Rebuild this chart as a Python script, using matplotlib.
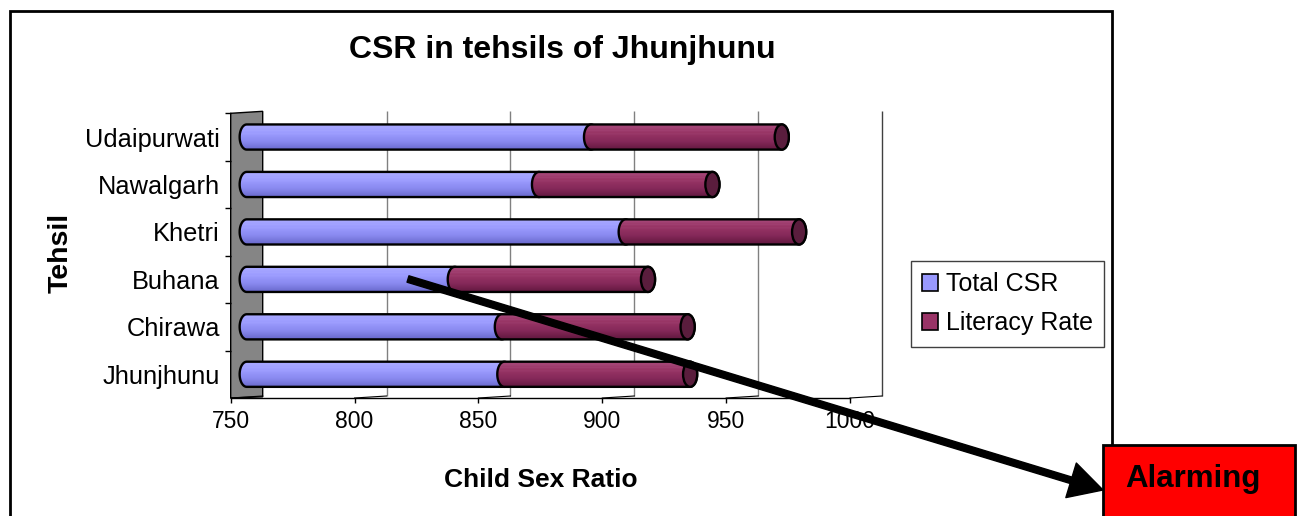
import numpy as np
import matplotlib.pyplot as plt
from matplotlib.patches import Polygon, Ellipse, Rectangle, FancyArrowPatch, ArrowStyle, Patch
from matplotlib.colors import LinearSegmentedColormap
from matplotlib.transforms import ScaledTranslation
from matplotlib.lines import Line2D

# data
tehsils = ['Jhunjhunu', 'Chirawa', 'Buhana', 'Khetri', 'Nawalgarh', 'Udaipurwati']
total_csr = [854, 853, 834, 903, 868, 889]
literacy_rate = [75, 75, 78, 70, 70, 77]
x_ticks = [750, 800, 850, 900, 950, 1000]
series_names = ['Total CSR', 'Literacy Rate']

plt.rcParams['font.family'] = ['Liberation Sans', 'DejaVu Sans']

W, H = 1301, 516
fig = plt.figure(figsize=(W / 100, H / 100), dpi=100)
fig.patch.set_facecolor('white')

def fx(px):
    return px / W

def fy(py):
    return 1 - py / H

ax = fig.add_axes([fx(230.7), fy(398), fx(850) - fx(230.7), fy(113.3) - fy(398)])
ax.set_facecolor('none')

# 3d depth offsets (bars sit mid-depth, gridlines on the back wall)
mid = ax.transData + ScaledTranslation(16 / 100, 0, fig.dpi_scale_trans)
back = ax.transData + ScaledTranslation(32 / 100, 2 / 100, fig.dpi_scale_trans)

blue_cm = LinearSegmentedColormap.from_list('b', ['#6868CC', '#8A8AF0', '#9C9CFF', '#AAAAFF'])
red_cm = LinearSegmentedColormap.from_list('r', ['#62183F', '#86295A', '#983565', '#A84A7C'])
grad = np.linspace(0, 1, 80)
for s in (0.62, 0.74, 0.86):
    grad[int(s * 80)] = 1.0
grad = grad[:, None]

bar_h = 0.53
cap = 2.85  # half width of the end ellipse, in data units


def cylinder(x0, x1, yc):
    t = np.linspace(np.pi / 2, 3 * np.pi / 2, 24)
    left = np.column_stack([x0 + cap * np.cos(t), yc + bar_h / 2 * np.sin(t)])
    t2 = np.linspace(-np.pi / 2, np.pi / 2, 24)
    right = np.column_stack([x1 + cap * np.cos(t2), yc + bar_h / 2 * np.sin(t2)])
    return np.vstack([left, right])


def draw_segment(x0, x1, yc, cm, z):
    poly = Polygon(cylinder(x0, x1, yc), closed=True, facecolor='none',
                   edgecolor='black', lw=1.7, transform=mid, zorder=z + 0.1)
    ax.add_patch(poly)
    im = ax.imshow(grad, extent=(x0 - cap, x1 + cap, yc - bar_h / 2, yc + bar_h / 2),
                   cmap=cm, vmin=0, vmax=1, aspect='auto', origin='lower',
                   interpolation='bilinear', zorder=z)
    im.set_transform(mid)
    im.set_clip_path(poly)


for i, (csr, lit) in enumerate(zip(total_csr, literacy_rate)):
    draw_segment(x_ticks[0], csr, i, blue_cm, 3)
    draw_segment(csr, csr + lit, i, red_cm, 4)
    ax.add_patch(Ellipse((csr + lit, i), 2 * cap, bar_h, facecolor='#5A1D3D',
                         edgecolor='black', lw=1.7, transform=mid, zorder=5))

ax.set_xlim(x_ticks[0], x_ticks[-1])
ax.set_ylim(-0.5, len(tehsils) - 0.5)

# back wall gridlines
ax.vlines(x_ticks[1:-1], -0.5, len(tehsils) - 0.5, colors='#808080', lw=1,
          transform=back, zorder=1, clip_on=False)
ax.vlines(x_ticks[-1:], -0.5, len(tehsils) - 0.5, colors='#404040', lw=1,
          transform=back, zorder=1, clip_on=False)

# grey side wall at the axis minimum
wall = Polygon([(0, 0), (0, 1), (32 / 619.3, 1.007), (32 / 619.3, 0.004)], closed=True,
               facecolor='#858585', edgecolor='black', lw=1, transform=ax.transAxes,
               zorder=1.5, clip_on=False)
ax.add_patch(wall)

# floor edges from the front ticks to the back wall
for v in x_ticks:
    p0 = ax.transData.transform((v, -0.5))
    p1 = back.transform((v, -0.5))
    fig.add_artist(Line2D([p0[0] / W, p1[0] / W], [p0[1] / H, p1[1] / H],
                          transform=fig.transFigure, color='black', lw=0.8))

for side in ('top', 'right', 'left'):
    ax.spines[side].set_visible(False)
ax.spines['bottom'].set_linewidth(1)

ax.set_xticks(x_ticks)
ax.set_xticklabels([str(v) for v in x_ticks])
ax.tick_params(axis='x', direction='out', length=3.6, width=1, pad=5, labelsize=16.5)
ax.set_yticks(range(len(tehsils)))
ax.set_yticklabels(tehsils)
ax.set_yticks(np.arange(0.5, len(tehsils)), minor=True)
ax.tick_params(axis='y', which='major', length=0, pad=7.7, labelsize=18.3)
ax.tick_params(axis='y', which='minor', direction='out', length=4.3, width=1)

fig.text(fx(562), fy(50), 'CSR in tehsils of Jhunjhunu', ha='center', va='center',
         fontsize=23, fontweight='bold')
fig.text(fx(541), fy(480), 'Child Sex Ratio', ha='center', va='center',
         fontsize=19, fontweight='bold')
fig.text(fx(61), fy(253), 'Tehsil', ha='center', va='center', rotation=90,
         fontsize=20.5, fontweight='bold')

handles = [Patch(facecolor='#9999FF', edgecolor='black', lw=1.2),
           Patch(facecolor='#993366', edgecolor='black', lw=1.2)]
leg = fig.legend(handles, series_names, loc='upper left', bbox_to_anchor=(fx(910.7), fy(261)),
                 bbox_transform=fig.transFigure, frameon=True, fancybox=False,
                 edgecolor='#404040', framealpha=1, fontsize=18, handlelength=0.65,
                 handleheight=0.65, handletextpad=0.3, labelspacing=0.6,
                 borderpad=0.45, borderaxespad=0)
leg.get_frame().set_linewidth(1)

# chart area border
fig.add_artist(Rectangle((fx(10), -0.05), fx(1111.5) - fx(10), fy(10.5) + 0.05, fill=False,
                         edgecolor='black', lw=2, transform=fig.transFigure, zorder=3))

# callout box
fig.add_artist(Rectangle((fx(1103), -0.05), fx(1295) - fx(1103), fy(445) + 0.05,
                         facecolor='#FF0000', edgecolor='black', lw=2,
                         transform=fig.transFigure, zorder=4))
fig.text(fx(1193), fy(479), 'Alarming', ha='center', va='center', fontsize=22.5,
         fontweight='bold', zorder=5)

arrow = FancyArrowPatch((fx(408), fy(279)), (fx(1103), fy(490)), transform=fig.transFigure,
                        arrowstyle=ArrowStyle.Simple(head_length=24, head_width=26, tail_width=4.8),
                        mutation_scale=1, color='black', shrinkA=0, shrinkB=0, zorder=10)
fig.add_artist(arrow)

fig.savefig('out.png', dpi=100)
